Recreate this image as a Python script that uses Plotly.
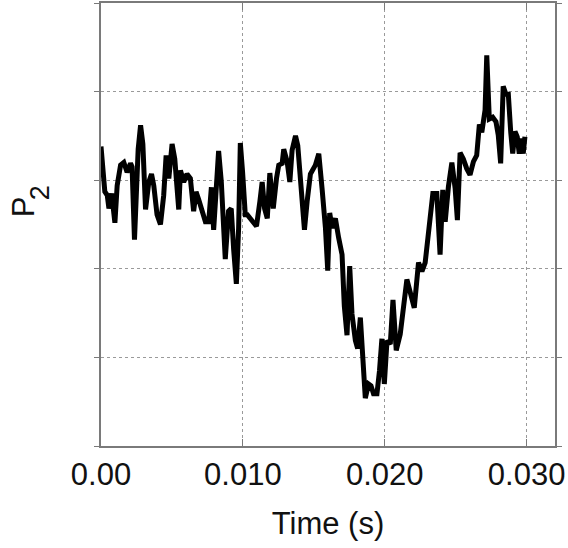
import plotly.graph_objects as go

# Time samples (s) and P2 trace (arbitrary units)
time_s = [
    0.00000, 0.00027, 0.00044, 0.00056, 0.00075, 0.00098, 0.00114, 0.00138, 0.00161, 0.00184,
    0.00208, 0.00219, 0.00236, 0.00262, 0.00279, 0.00295, 0.00314, 0.00337, 0.00356, 0.00372,
    0.00395, 0.00419, 0.00442, 0.00459, 0.00478, 0.00501, 0.00520, 0.00536, 0.00548, 0.00560,
    0.00583, 0.00606, 0.00630, 0.00653, 0.00670, 0.00689, 0.00712, 0.00736, 0.00759, 0.00778,
    0.00794, 0.00810, 0.00829, 0.00848, 0.00864, 0.00876, 0.00899, 0.00918, 0.00935, 0.00954,
    0.00970, 0.00982, 0.00998, 0.01017, 0.01031, 0.01066, 0.01096, 0.01120, 0.01136, 0.01153,
    0.01172, 0.01190, 0.01214, 0.01237, 0.01253, 0.01277, 0.01288, 0.01312, 0.01331, 0.01347,
    0.01371, 0.01387, 0.01406, 0.01434, 0.01453, 0.01476, 0.01511, 0.01535, 0.01558, 0.01582,
    0.01598, 0.01612, 0.01629, 0.01652, 0.01675, 0.01699, 0.01715, 0.01734, 0.01753, 0.01769,
    0.01793, 0.01809, 0.01828, 0.01847, 0.01863, 0.01886, 0.01903, 0.01921, 0.01945, 0.01963,
    0.01980, 0.01997, 0.02016, 0.02039, 0.02058, 0.02081, 0.02109, 0.02156, 0.02184, 0.02208,
    0.02238, 0.02262, 0.02285, 0.02315, 0.02339, 0.02367, 0.02390, 0.02409, 0.02426, 0.02449,
    0.02473, 0.02496, 0.02512, 0.02531, 0.02554, 0.02578, 0.02601, 0.02625, 0.02648, 0.02667,
    0.02684, 0.02707, 0.02719, 0.02737, 0.02761, 0.02784, 0.02800, 0.02817, 0.02835, 0.02854,
    0.02871, 0.02888, 0.02902, 0.02918, 0.02934, 0.02948, 0.02965, 0.02976, 0.02988,
]
p2 = [
    3.38, 2.87, 2.83, 2.68, 2.85, 2.52, 2.94, 3.17, 3.20, 3.09,
    3.19, 3.15, 2.33, 3.35, 3.62, 3.41, 2.67, 2.98, 3.07, 2.94,
    2.61, 2.50, 2.83, 3.28, 3.02, 3.41, 3.24, 2.91, 2.67, 3.11,
    2.98, 3.07, 3.02, 2.65, 2.87, 2.78, 2.65, 2.53, 2.53, 2.92,
    2.44, 2.98, 3.33, 2.98, 2.53, 2.11, 2.65, 2.68, 2.22, 1.83,
    2.46, 3.42, 3.09, 2.61, 2.61, 2.55, 2.48, 2.76, 2.98, 2.68,
    2.57, 3.08, 2.68, 3.02, 3.17, 3.19, 3.35, 3.21, 2.98, 3.34,
    3.50, 3.39, 2.98, 2.44, 2.76, 3.07, 3.17, 3.30, 2.91, 2.46,
    1.98, 2.63, 2.46, 2.57, 2.35, 2.16, 1.58, 1.25, 2.03, 1.49,
    1.19, 1.10, 1.45, 0.99, 0.54, 0.70, 0.68, 0.59, 0.59, 0.85,
    1.21, 0.70, 1.19, 1.15, 1.65, 1.08, 1.26, 1.88, 1.71, 1.56,
    2.07, 1.97, 2.07, 2.57, 2.85, 2.85, 2.16, 2.89, 2.53, 2.93,
    3.20, 2.91, 2.55, 3.31, 3.24, 3.13, 3.06, 3.21, 3.28, 3.63,
    3.54, 3.79, 4.41, 3.69, 3.71, 3.66, 3.51, 3.19, 4.06, 3.97,
    3.97, 3.54, 3.30, 3.55, 3.49, 3.30, 3.47, 3.30, 3.49,
]

# Axis tick positions and their printed labels
x_tick_vals = [0.0, 0.010, 0.020, 0.030]
x_tick_text = ["0.00", "0.010", "0.020", "0.030"]
y_tick_vals = [0, 1, 2, 3, 4, 5]

frame_color = "#7a7a7a"
grid_color = "#9a9a9a"
font_family = "Liberation Sans, Arial, sans-serif"

fig = go.Figure()
fig.add_trace(go.Scatter(
    x=time_s, y=p2, mode="lines",
    line=dict(color="#000000", width=5),
    hoverinfo="skip", showlegend=False,
))

fig.update_layout(
    width=568, height=548,
    margin=dict(l=101, r=13, t=1, b=102, pad=0),
    paper_bgcolor="white", plot_bgcolor="white",
    font=dict(family=font_family, size=31, color="#111111"),
    xaxis=dict(
        range=[0, 0.032],
        tickvals=x_tick_vals, ticktext=x_tick_text,
        ticks="inside", ticklen=7, tickwidth=1, tickcolor=frame_color,
        showline=True, linecolor=frame_color, linewidth=1.5, mirror="ticks",
        showgrid=True, gridcolor=grid_color, gridwidth=1, griddash="dot",
        zeroline=False,
        tickfont=dict(size=31, color="#111111"),
        title=dict(text="Time (s)", font=dict(size=31, color="#111111"), standoff=21),
    ),
    yaxis=dict(
        range=[0, 5],
        tickvals=y_tick_vals, showticklabels=False,
        ticks="outside", ticklen=5, tickwidth=1, tickcolor=frame_color,
        showline=True, linecolor=frame_color, linewidth=1.5, mirror="ticks",
        showgrid=True, gridcolor=grid_color, gridwidth=1, griddash="dot",
        zeroline=False,
    ),
)

# Vertical axis label: P with subscript 2
fig.add_annotation(
    text="P", textangle=-90, showarrow=False,
    xref="paper", yref="paper", x=-0.172, y=0.541,
    xanchor="center", yanchor="middle",
    font=dict(family=font_family, size=31, color="#111111"),
)
fig.add_annotation(
    text="2", textangle=-90, showarrow=False,
    xref="paper", yref="paper", x=-0.135, y=0.572,
    xanchor="center", yanchor="middle",
    font=dict(family=font_family, size=27, color="#111111"),
)

fig.write_html("out.html")
